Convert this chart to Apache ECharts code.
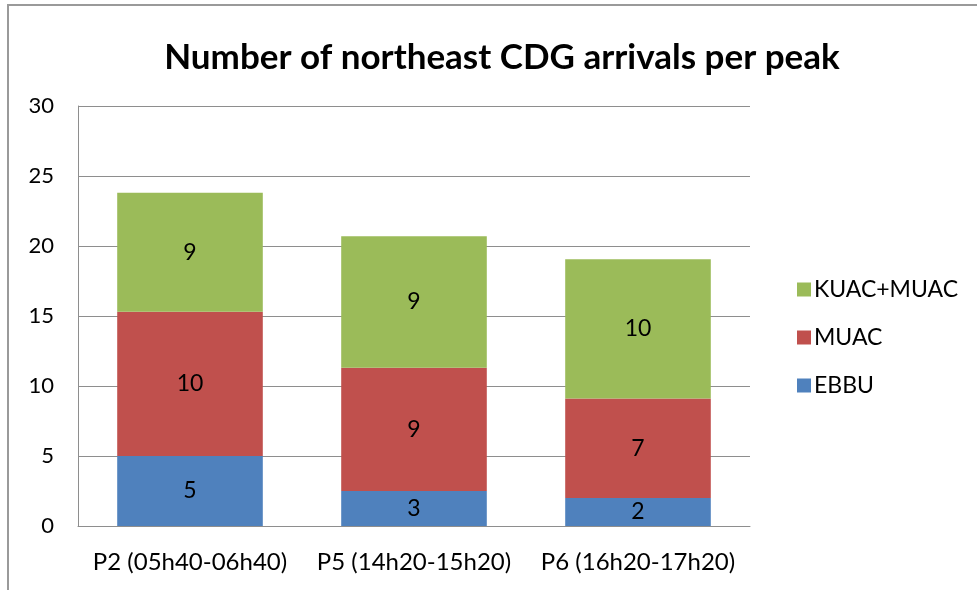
<!DOCTYPE html>
<html>
<head>
<meta charset="utf-8">
<script src="https://cdn.jsdelivr.net/npm/echarts@6/dist/echarts.min.js"></script>
<style>
    html, body { margin: 0; padding: 0; background: #fff; }
    #chart { width: 977px; height: 590px; }
</style>
</head>
<body>
<div id="chart"></div>
<script>
// data (bar heights); labels show rounded values
const peaks = ['P2 (05h40-06h40)', 'P5 (14h20-15h20)', 'P6 (16h20-17h20)'];
const ebbu = [5, 2.5, 2];
const muac = [10.3, 8.8, 7.1];
const kuacMuac = [8.5, 9.4, 9.95];

const colors = {
    ebbu: '#4f81bd',
    muac: '#c0504d',
    kuac: '#9bbb59',
};

const font = 'Lato, "Open Sans", sans-serif';

function barSeries(name, data, color) {
    return {
        name: name,
        type: 'bar',
        stack: 'total',
        data: data,
        barWidth: '65%',
        itemStyle: { color: color },
        label: {
            show: true,
            position: 'inside',
            color: '#000',
            fontFamily: font,
            fontSize: 23,
            formatter: p => Math.round(p.value),
        },
        emphasis: { disabled: true },
    };
}

const chart = echarts.init(document.getElementById('chart'));

chart.setOption({
    animation: false,
    backgroundColor: '#fff',
    title: {
        text: 'Number of northeast CDG arrivals per peak',
        left: 497,
        textAlign: 'center',
        top: 35,
        textStyle: {
            fontFamily: font,
            fontWeight: 'bold',
            fontSize: 35,
            color: '#000',
        },
    },
    legend: {
        orient: 'vertical',
        left: 792,
        top: 273,
        itemWidth: 14,
        itemHeight: 14,
        itemGap: 25,
        icon: 'rect',
        data: ['KUAC+MUAC', 'MUAC', 'EBBU'],
        textStyle: {
            fontFamily: font,
            fontSize: 23,
            color: '#000',
            padding: [0, 0, 0, -2],
        },
        selectedMode: false,
    },
    grid: {
        left: 78,
        right: 227,
        top: 106,
        bottom: 64,
    },
    xAxis: {
        type: 'category',
        data: peaks,
        axisLine: { lineStyle: { color: '#8e8e8e', width: 1 } },
        axisTick: { show: false },
        axisLabel: {
            interval: 0,
            fontFamily: font,
            fontSize: 24,
            color: '#000',
            margin: 24,
        },
    },
    yAxis: {
        type: 'value',
        min: 0,
        max: 30,
        interval: 5,
        axisLine: { show: true, lineStyle: { color: '#8e8e8e', width: 1 } },
        axisTick: { show: false },
        splitLine: { lineStyle: { color: '#8e8e8e', width: 1 } },
        axisLabel: {
            fontFamily: font,
            fontSize: 22,
            color: '#000',
            margin: 24,
        },
    },
    graphic: [
        {
            type: 'rect',
            shape: { x: 8, y: 5, width: 1200, height: 1200 },
            style: { fill: null, stroke: '#9a9a9a', lineWidth: 2 },
            silent: true,
        },
    ],
    series: [
        barSeries('EBBU', ebbu, colors.ebbu),
        barSeries('MUAC', muac, colors.muac),
        barSeries('KUAC+MUAC', kuacMuac, colors.kuac),
    ],
});
</script>
</body>
</html>
